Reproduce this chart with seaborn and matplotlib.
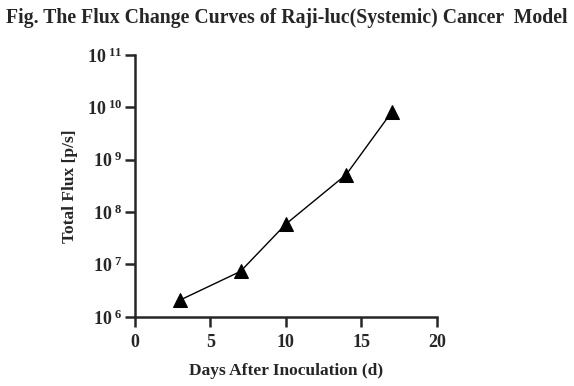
import numpy as np
import pandas as pd
import matplotlib
matplotlib.use("Agg")
import matplotlib.pyplot as plt
import matplotlib.ticker as mticker
import seaborn as sns

# data
days = [3, 7, 10, 14, 17]
flux = [2.1e6, 7.4e6, 5.9e7, 5.2e8, 8.0e9]

x_ticks = [0, 5, 10, 15, 20]
y_ticks = [1e6, 1e7, 1e8, 1e9, 1e10, 1e11]

sns.set_style("ticks")
plt.rcParams['font.family'] = ['Liberation Serif', 'DejaVu Serif']
plt.rcParams['font.weight'] = 'bold'
plt.rcParams['mathtext.fontset'] = 'custom'
plt.rcParams['mathtext.rm'] = 'Liberation Serif:bold'
plt.rcParams['mathtext.bf'] = 'Liberation Serif:bold'
plt.rcParams['mathtext.it'] = 'Liberation Serif:bold'

df = pd.DataFrame({"Days": days, "Flux": flux})

fig = plt.figure(figsize=(5.74, 3.86), dpi=100)
ax = fig.add_axes([0.235, 0.179, 0.526, 0.679])

sns.lineplot(data=df, x="Days", y="Flux", ax=ax, color="black", linewidth=1.0,
             marker="^", markersize=10, markeredgecolor="black")

ax.set_yscale("log")
ax.set_xlim(0, 20)
ax.set_ylim(1e6, 1e11)
ax.set_xticks(x_ticks)
ax.set_yticks(y_ticks)
ax.yaxis.set_minor_locator(mticker.NullLocator())
ax.yaxis.set_major_formatter(mticker.FuncFormatter(
    lambda v, p: r"$10^{\ %d}$" % int(round(np.log10(v)))))

for s in ["top", "right"]:
    ax.spines[s].set_visible(False)
for s in ["left", "bottom"]:
    ax.spines[s].set_linewidth(1.8)
ax.tick_params(axis="both", width=1.8, length=7, labelsize=13, direction="out")
ax.tick_params(axis="x", pad=5)
ax.tick_params(axis="y", pad=2)
for lab in ax.get_xticklabels():
    lab.set_fontweight("bold")

ax.set_xlabel("Days After Inoculation (d)", fontsize=12.5, fontweight="bold", labelpad=9)
ax.set_ylabel("Total Flux [p/s]", fontsize=12.5, fontweight="bold", labelpad=6)
fig.suptitle("Fig. The Flux Change Curves of Raji-luc(Systemic) Cancer  Model",
             x=0.5, y=0.98, fontsize=14.2, fontweight="bold")

fig.savefig("out.png", dpi=100)
